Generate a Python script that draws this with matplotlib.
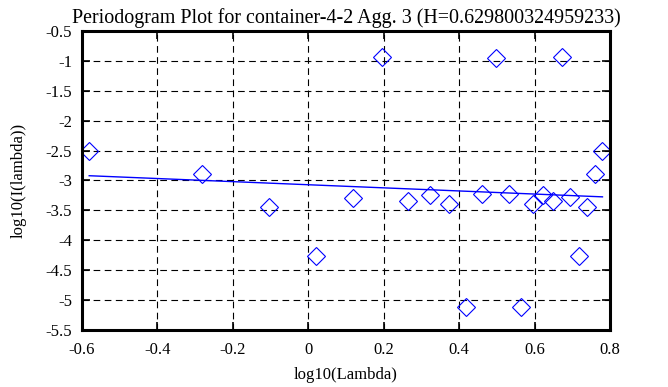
import numpy as np
import matplotlib
matplotlib.use("Agg")
import matplotlib.pyplot as plt

# periodogram points
log_lambda = [-0.581, -0.281, -0.104, 0.021, 0.118, 0.196, 0.264, 0.322, 0.372,
              0.418, 0.460, 0.497, 0.532, 0.563, 0.595, 0.622, 0.649, 0.674,
              0.695, 0.718, 0.740, 0.760, 0.780]
log_i = [-2.51, -2.89, -3.44, -4.27, -3.29, -0.93, -3.34, -3.24, -3.40,
         -5.12, -3.23, -0.955, -3.23, -5.12, -3.40, -3.24, -3.34, -0.93,
         -3.28, -4.27, -3.45, -2.89, -2.50]

# fitted line, slope = 1 - 2H
hurst = 0.629800324959233
fit_slope = 1 - 2 * hurst
fit_intercept = -3.071

xticks = [-0.6, -0.4, -0.2, 0, 0.2, 0.4, 0.6, 0.8]
yticks = [-5.5, -5, -4.5, -4, -3.5, -3, -2.5, -2, -1.5, -1, -0.5]

plt.rcParams['font.family'] = ['Liberation Serif', 'DejaVu Serif']
plt.rcParams['font.size'] = 12

fig = plt.figure(figsize=(6.68, 3.87), dpi=100)
ax = fig.add_axes([0.1228, 0.1473, 0.7904, 0.7726])

ax.plot(log_lambda, log_i, linestyle='none', marker='D', markersize=9,
        markerfacecolor='none', markeredgecolor='#0000ff', markeredgewidth=0.8)

fx = np.array([log_lambda[0], log_lambda[-1]])
ax.plot(fx, fit_intercept + fit_slope * fx, color='#0000ff', linewidth=1.0)

ax.set_xlim(-0.6, 0.8)
ax.set_ylim(-5.5, -0.5)
ax.set_xticks(xticks)
ax.set_xticklabels(['-0.6', '-0.4', '-0.2', '0', '0.2', '0.4', '0.6', '0.8'])
ax.set_yticks(yticks)
ax.set_yticklabels(['-5.5', '-5', '-4.5', '-4', '-3.5', '-3', '-2.5', '-2', '-1.5', '-1', '-0.5'])
ax.grid(True, color='black', linestyle=(0, (6, 4)), linewidth=0.8)
ax.tick_params(direction='in', length=6, width=1.2, top=True, right=True)
ax.tick_params(axis='x', pad=9)
ax.tick_params(axis='y', pad=7)
for s in ax.spines.values():
    s.set_linewidth(2.2)

ax.set_title('Periodogram Plot for container-4-2 Agg. 3 (H=0.629800324959233)', pad=6)
ax.set_xlabel('log10(Lambda)', labelpad=6)
ax.set_ylabel('log10(I(lambda))', labelpad=14)

fig.savefig('out.png', dpi=100)
